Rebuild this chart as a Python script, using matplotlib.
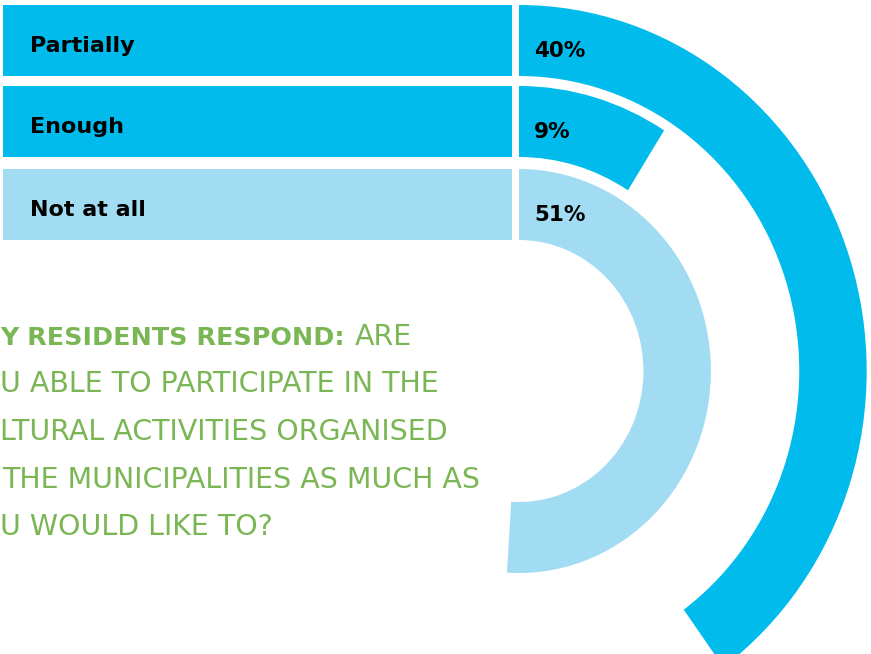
import matplotlib.pyplot as plt
from matplotlib.patches import Wedge
from matplotlib.transforms import Affine2D

# survey answers
labels = ["Partially", "Enough", "Not at all"]
values = [40, 9, 51]

# question text as visible in the picture (left part is off the page)
question_bold = "Y RESIDENTS RESPOND:"
question_rest = "ARE"
question_lines = ["U ABLE TO PARTICIPATE IN THE",
                  "LTURAL ACTIVITIES ORGANISED",
                  "THE MUNICIPALITIES AS MUCH AS",
                  "U WOULD LIKE TO?"]

bright = "#00BBEB"
light = "#A2DCF3"
green = "#7BB655"
colors = [bright, bright, light]

plt.rcParams['font.family'] = ['DejaVu Sans']

fig = plt.figure(figsize=(8.71, 6.54), dpi=100)
ax = fig.add_axes([0, 0, 1, 1])
ax.set_xlim(0, 871)
ax.set_ylim(654, 0)
ax.axis('off')

# layout in pixels
row_top = [5, 86, 169]
row_h = 71
bar_left, bar_right = 3, 512
cx, cy, sx = 519, 371, 0.95
ring_tf = Affine2D().scale(sx, -1).translate(cx, cy) + ax.transData

for i in range(len(labels)):
    top = row_top[i]
    ax.barh(top + row_h / 2, bar_right - bar_left, left=bar_left, height=row_h,
            color=colors[i], linewidth=0)
    outer = cy - top
    inner = cy - (top + row_h)
    ax.add_patch(Wedge((0, 0), outer, 90 - values[i] * 3.6, 90, width=outer - inner,
                       facecolor=colors[i], edgecolor='none', transform=ring_tf))
    ax.text(30, top + 47, labels[i], fontsize=16, fontweight='bold', color='black',
            va='baseline', ha='left')
    ax.text(534, top + 52, "{}%".format(values[i]), fontsize=15.5, fontweight='bold',
            color='black', va='baseline', ha='left')

baselines = [345, 392, 440, 488, 535]
ax.text(0, baselines[0], question_bold, fontsize=18.3, fontweight='bold',
        color=green, va='baseline', ha='left')
ax.text(355, baselines[0], question_rest, fontsize=20.5, color=green,
        va='baseline', ha='left')
for line, y in zip(question_lines, baselines[1:]):
    ax.text(2 if line.startswith("THE") else 0, y, line, fontsize=20.5, color=green,
            va='baseline', ha='left')

plt.savefig("out.png", dpi=100)
